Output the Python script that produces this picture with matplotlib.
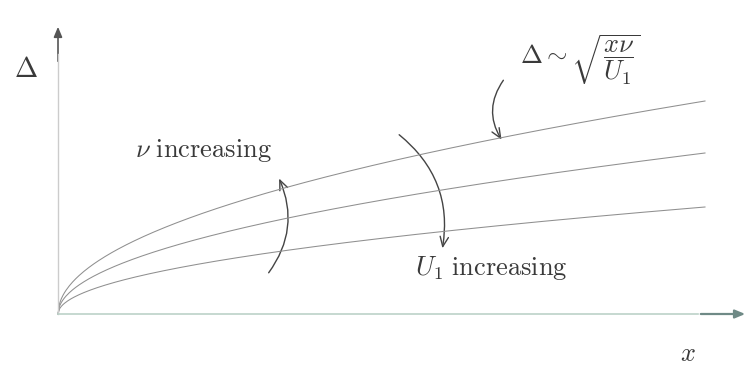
import numpy as np
import matplotlib
matplotlib.use("Agg")
import matplotlib.pyplot as plt
from matplotlib.patches import FancyArrowPatch

plt.rcParams["mathtext.fontset"] = "cm"

# boundary layer thickness curves, Delta ~ sqrt(x nu / U1)
x_end = 647.0
delta_end = [213.0, 161.0, 107.0]   # thickness at the right end of each curve
x = np.linspace(0.0, x_end, 400)

fig = plt.figure(figsize=(7.5, 3.67), dpi=100)
ax = fig.add_axes([0, 0, 1, 1])
ax.set_xlim(-58, 692)
ax.set_ylim(-53, 314)
ax.axis("off")

for d in delta_end:
    ax.plot(x, d * np.sqrt(x / x_end), color="#8f8f8f", lw=0.75)

# axes with arrow heads
ax.plot([0, 0], [0, 260], color="#cccccc", lw=1.0)
ax.plot([0, 640], [0, 0], color="#bcd2c8", lw=1.2)
ax.add_patch(FancyArrowPatch((0, 250), (0, 290), arrowstyle="-|>,head_length=6,head_width=2.5",
                             color="#555555", lw=1.2, mutation_scale=1))
ax.add_patch(FancyArrowPatch((640, 0), (690, 0), arrowstyle="-|>,head_length=6,head_width=2.5",
                             color="#6f8a86", lw=1.6, mutation_scale=1))

tkw = dict(ha="center", va="center", color="#3a3a3a")
ax.text(-32, 245, r"$\Delta$", fontsize=20, **tkw)
ax.text(522, 254, r"$\Delta \sim \sqrt{\dfrac{x\nu}{U_1}}$", fontsize=19, **tkw)
ax.text(145, 164, r"$\nu\ \mathrm{increasing}$", fontsize=19, **tkw)
ax.text(433, 46, r"$U_1\ \mathrm{increasing}$", fontsize=19, **tkw)
ax.text(630, -40, r"$x$", fontsize=19, **tkw)

akw = dict(arrowstyle="->,head_length=7,head_width=3", color="#444444", lw=1.0, mutation_scale=1)
ax.add_patch(FancyArrowPatch((209, 39), (220, 138), connectionstyle="arc3,rad=0.3", **akw))
ax.add_patch(FancyArrowPatch((339, 181), (384, 63), connectionstyle="arc3,rad=-0.3", **akw))
ax.add_patch(FancyArrowPatch((447, 236), (445, 172), connectionstyle="arc3,rad=0.35", **akw))

fig.savefig("out.png", dpi=100, facecolor="white")
